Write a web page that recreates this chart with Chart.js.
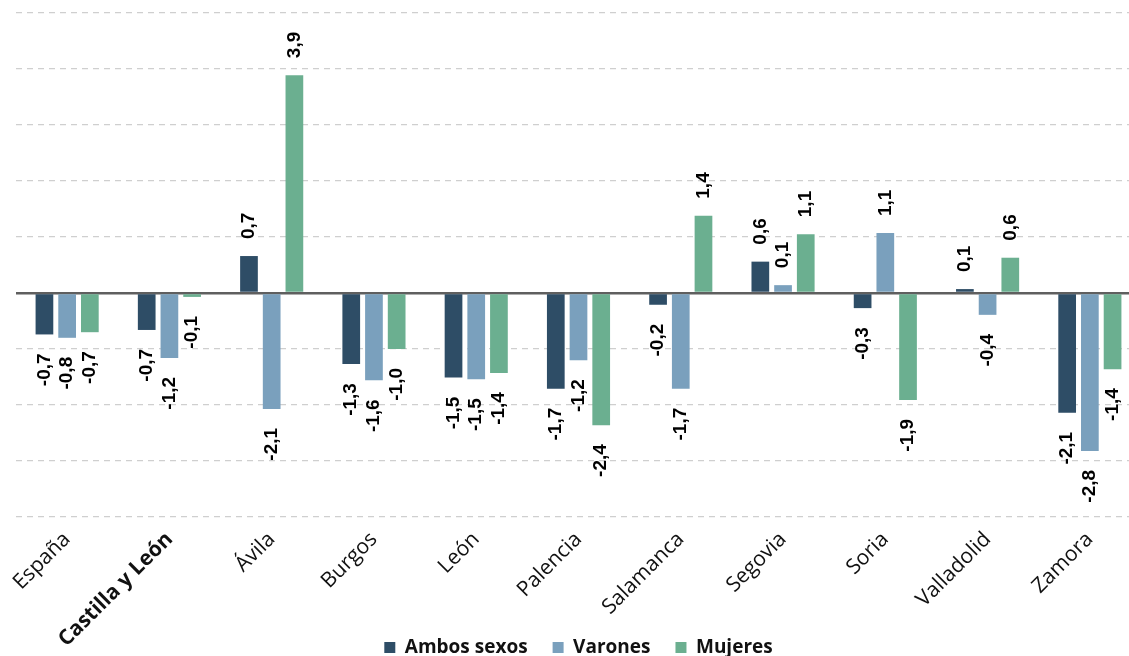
<!DOCTYPE html>
<html>
<head>
<meta charset="utf-8">
<script src="https://cdn.jsdelivr.net/npm/chart.js@4/dist/chart.umd.min.js"></script>
<style>
  html, body { margin: 0; padding: 0; background: #fff; overflow: hidden; }
  #wrap { position: relative; width: 1141px; height: 667px; }
</style>
</head>
<body>
<div id="wrap"><canvas id="c"></canvas></div>
<script>
const categories = ['España','Castilla y León','Ávila','Burgos','León','Palencia','Salamanca','Segovia','Soria','Valladolid','Zamora'];
const ambosSexos = [-0.74,-0.66,0.66,-1.27,-1.51,-1.71,-0.21,0.56,-0.27,0.07,-2.14];
const varones    = [-0.80,-1.16,-2.07,-1.56,-1.54,-1.20,-1.71,0.14,1.07,-0.39,-2.82];
const mujeres    = [-0.70,-0.07,3.89,-1.00,-1.43,-2.36,1.38,1.05,-1.91,0.63,-1.36];
const seriesNames = ['Ambos sexos','Varones','Mujeres'];
const seriesColors = ['#2e4d66','#7aa0bd','#6baf90'];

const fmt = v => v.toFixed(1).replace('.', ',');

const labelPlugin = {
  id: 'barLabels',
  afterLayout(chart) {
    // let rotated category labels extend below the axis box without clipping
    chart.scales.x.bottom = chart.height;
  },
  afterDatasetsDraw(chart) {
    const ctx = chart.ctx;
    ctx.save();
    ctx.font = 'bold 19px "Liberation Sans", Arial, sans-serif';
    ctx.fillStyle = '#000';
    ctx.textBaseline = 'middle';
    chart.data.datasets.forEach((ds, di) => {
      const meta = chart.getDatasetMeta(di);
      meta.data.forEach((bar, i) => {
        const v = ds.data[i];
        ctx.save();
        if (v >= 0) {
          ctx.translate(bar.x, bar.y - 17);
          ctx.rotate(-Math.PI / 2);
          ctx.textAlign = 'left';
        } else {
          ctx.translate(bar.x, bar.y + 19);
          ctx.rotate(-Math.PI / 2);
          ctx.textAlign = 'right';
        }
        ctx.fillText(fmt(v), 0, 0);
        ctx.restore();
      });
    });
    ctx.restore();
  }
};

new Chart(document.getElementById('c'), {
  type: 'bar',
  data: {
    labels: categories,
    datasets: [
      { label: seriesNames[0], data: ambosSexos, backgroundColor: seriesColors[0] },
      { label: seriesNames[1], data: varones, backgroundColor: seriesColors[1] },
      { label: seriesNames[2], data: mujeres, backgroundColor: seriesColors[2] }
    ]
  },
  options: {
    responsive: true,
    maintainAspectRatio: false,
    animation: false,
    devicePixelRatio: 1,
    categoryPercentage: 0.666,
    barPercentage: 0.78,
    layout: { padding: { left: 16, right: 0, top: 13, bottom: 0 } },
    plugins: {
      tooltip: { enabled: false },
      legend: {
        position: 'bottom',
        labels: {
          boxWidth: 11, boxHeight: 11, padding: 25,
          color: '#111',
          font: { family: '"Open Sans", sans-serif', size: 19, weight: 'bold' }
        }
      }
    },
    scales: {
      x: {
        grid: { display: false, drawTicks: false },
        border: { display: false },
        ticks: {
          maxRotation: 45, minRotation: 45,
          padding: 10,
          color: '#111',
          font: ctx => ({ family: '"Open Sans", sans-serif', size: 21, weight: ctx.index === 1 ? 'bold' : 'normal' })
        },
        afterFit: s => { s.height = 96; }
      },
      y: {
        min: -4, max: 5,
        ticks: { display: false, stepSize: 1 },
        grid: {
          drawTicks: false,
          color: ctx => ctx.tick && ctx.tick.value === 0 ? '#5f5f5f' : '#cfcfcf',
          lineWidth: ctx => ctx.tick && ctx.tick.value === 0 ? 2.5 : 1.3
        },
        border: { display: false, dash: ctx => ctx.tick && ctx.tick.value === 0 ? [] : [6, 5] }
      }
    }
  },
  plugins: [labelPlugin]
});
</script>
</body>
</html>
